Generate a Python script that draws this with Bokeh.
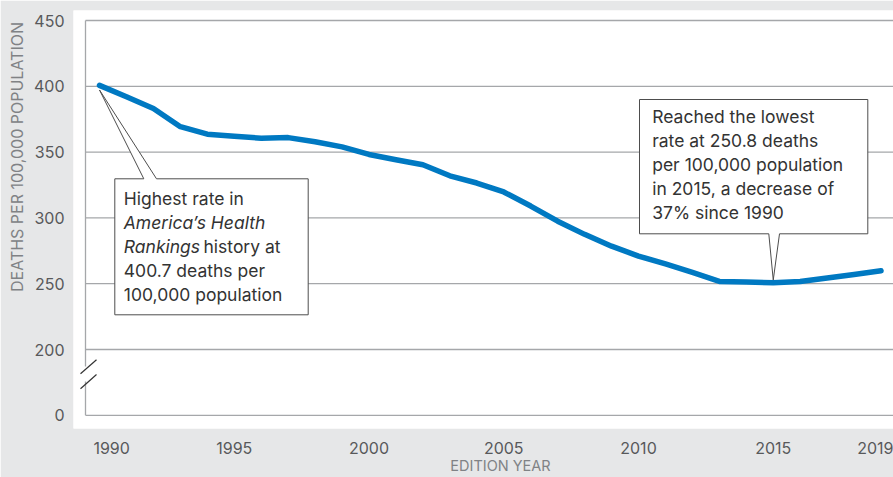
from bokeh.plotting import figure
from bokeh.models import Label, FixedTicker, LinearAxis
from bokeh.embed import file_html
from bokeh.resources import INLINE

# ---------------- data ----------------
years = list(range(1990, 2020))
rates = [400.7, 392.0, 383.2, 369.3, 363.6, 362.0, 360.6, 361.0, 357.9, 354.0,
         348.2, 344.2, 340.4, 332.0, 326.5, 319.7, 309.0, 297.5, 287.5, 278.5,
         271.0, 265.0, 258.6, 251.7, 251.2, 250.8, 251.6, 254.3, 257.0, 259.8]

x_tick_years = [1990, 1995, 2000, 2005, 2010, 2015, 2019]
x_tick_labels = ["1990", "1995", "2000", "2005", "2010", "2015", "2019"]
y_tick_values = [150, 200, 250, 300, 350, 400, 450]
y_tick_labels = ["0", "200", "250", "300", "350", "400", "450"]

y_title = "DEATHS PER 100,000 POPULATION"
x_title = "EDITION YEAR"
note_high = ["Highest rate in", "America\u2019s Health", "Rankings", "history at",
             "400.7 deaths per", "100,000 population"]
note_low = ["Reached the lowest", "rate at 250.8 deaths", "per 100,000 population",
            "in 2015, a decrease of", "37% since 1990"]

# ---------------- layout (canvas pixels -> data) ----------------
X0_PX, YR_PX = 99.0, 26.95          # 1990 position, px per year
Y450_PX, UNIT_PX = 20.0, 1.316       # 450 position, px per unit


def wx(px):
    return 1990 + (px - X0_PX) / YR_PX


def wy(py):
    return 450 - (py - Y450_PX) / UNIT_PX


FONT = "Inter"
GRID = "#a5a7aa"
BG = "#e6e7e8"
TICK_COLOR = "#58595b"
TITLE_COLOR = "#808285"

p = figure(width=893, height=477,
           x_range=(wx(73), wx(893)), y_range=(wy(428), wy(10)),
           output_backend="svg", toolbar_location=None,
           min_border_left=73, min_border_top=10, min_border_right=0,
           min_border_bottom=49)
p.border_fill_color = BG
p.background_fill_color = "white"
p.outline_line_color = None
p.xgrid.visible = False
p.ygrid.visible = False

# main axes
x_tick_pos = [y + (0.45 if i == 0 else 0) for i, y in enumerate(x_tick_years)]
p.xaxis.ticker = FixedTicker(ticks=x_tick_pos)
p.xaxis.major_label_overrides = {t: l for t, l in zip(x_tick_pos, x_tick_labels)}
p.yaxis.ticker = FixedTicker(ticks=y_tick_values)
p.yaxis.major_label_overrides = {t: l for t, l in zip(y_tick_values, y_tick_labels)}


def style_axis(ax, size, color, standoff):
    ax.axis_line_color = None
    ax.major_tick_line_color = None
    ax.minor_tick_line_color = None
    ax.major_tick_out = 0
    ax.major_tick_in = 0
    ax.minor_tick_out = 0
    ax.major_label_text_font = FONT
    ax.major_label_text_font_size = size
    ax.major_label_text_color = color
    ax.major_label_standoff = standoff


style_axis(p.xaxis[0], "16px", TICK_COLOR, 13)
style_axis(p.yaxis[0], "16px", TICK_COLOR, 9)

# axis titles as single-tick outer axes (positioned like the reference)
xt_pos = round(wx(500), 3)
x_title_axis = LinearAxis(ticker=FixedTicker(ticks=[xt_pos]),
                          major_label_overrides={xt_pos: x_title})
style_axis(x_title_axis, "14.5px", TITLE_COLOR, 0)
p.add_layout(x_title_axis, "below")

yt_pos = round(wy(156.5), 3)
y_title_axis = LinearAxis(ticker=FixedTicker(ticks=[yt_pos]),
                          major_label_overrides={yt_pos: y_title},
                          major_label_orientation="vertical")
style_axis(y_title_axis, "16px", TITLE_COLOR, 3)
p.add_layout(y_title_axis, "left")

# grid / frame lines
axis_x = wx(85)
right_x = wx(893)
p.segment(x0=[axis_x] * len(y_tick_values), y0=y_tick_values,
          x1=[right_x] * len(y_tick_values), y1=y_tick_values,
          line_color=GRID, line_width=1.3)
# left axis with break
p.segment(x0=[axis_x, axis_x], y0=[450, wy(381)], x1=[axis_x, axis_x], y1=[wy(366), 150],
          line_color=GRID, line_width=1.3)
p.segment(x0=[wx(80), wx(80)], y0=[wy(373.3), wy(388.3)],
          x1=[wx(96), wx(96)], y1=[wy(359.3), wy(374)],
          line_color="#333333", line_width=1.2)

# callouts
hi_x, hi_y = years[0], rates[0]
b1 = dict(l=wx(114.3), r=wx(307.7), t=wy(178.3), b=wy(314.3))
p.patch(x=[b1["l"], wx(143.3), hi_x, wx(156), b1["r"], b1["r"], b1["l"]],
        y=[b1["t"], b1["t"], hi_y - 3.5, b1["t"], b1["t"], b1["b"], b1["b"]],
        fill_color="white", line_color="#4d4d4d", line_width=1)
lo_i = years.index(2015)
lo_x, lo_y = years[lo_i], rates[lo_i]
b2 = dict(l=wx(639), r=wx(867.3), t=wy(99), b=wy(233.3))
p.patch(x=[b2["l"], b2["r"], b2["r"], wx(779), lo_x, wx(768.3), b2["l"]],
        y=[b2["t"], b2["t"], b2["b"], b2["b"], lo_y + 2.0, b2["b"], b2["b"]],
        fill_color="white", line_color="#4d4d4d", line_width=1)

# data line
p.line(years, rates, line_color="#0079c2", line_width=5.5, line_cap="round",
       line_join="round")

NOTE_SIZE = "17.5px"


def add_text(txt, px, py, style="normal"):
    p.add_layout(Label(x=wx(px), y=wy(py), text=txt, text_font=FONT,
                       text_font_size=NOTE_SIZE, text_color="#333333",
                       text_font_style=style, text_baseline="middle",
                       text_align="left"))


TX1 = 123.3
add_text(note_high[0], TX1, 197.7)
add_text(note_high[1], TX1, 221.7, style="italic")
add_text(note_high[2], TX1, 245.7, style="italic")
add_text(note_high[3], 203.0, 245.7)
add_text(note_high[4], TX1, 269.7)
add_text(note_high[5], TX1, 293.7)

TX2 = 651.7
for i, line in enumerate(note_low):
    add_text(line, TX2, 116 + 24 * i)

html = file_html(p, INLINE, title="Chart")
open("out.html", "w").write(html)
